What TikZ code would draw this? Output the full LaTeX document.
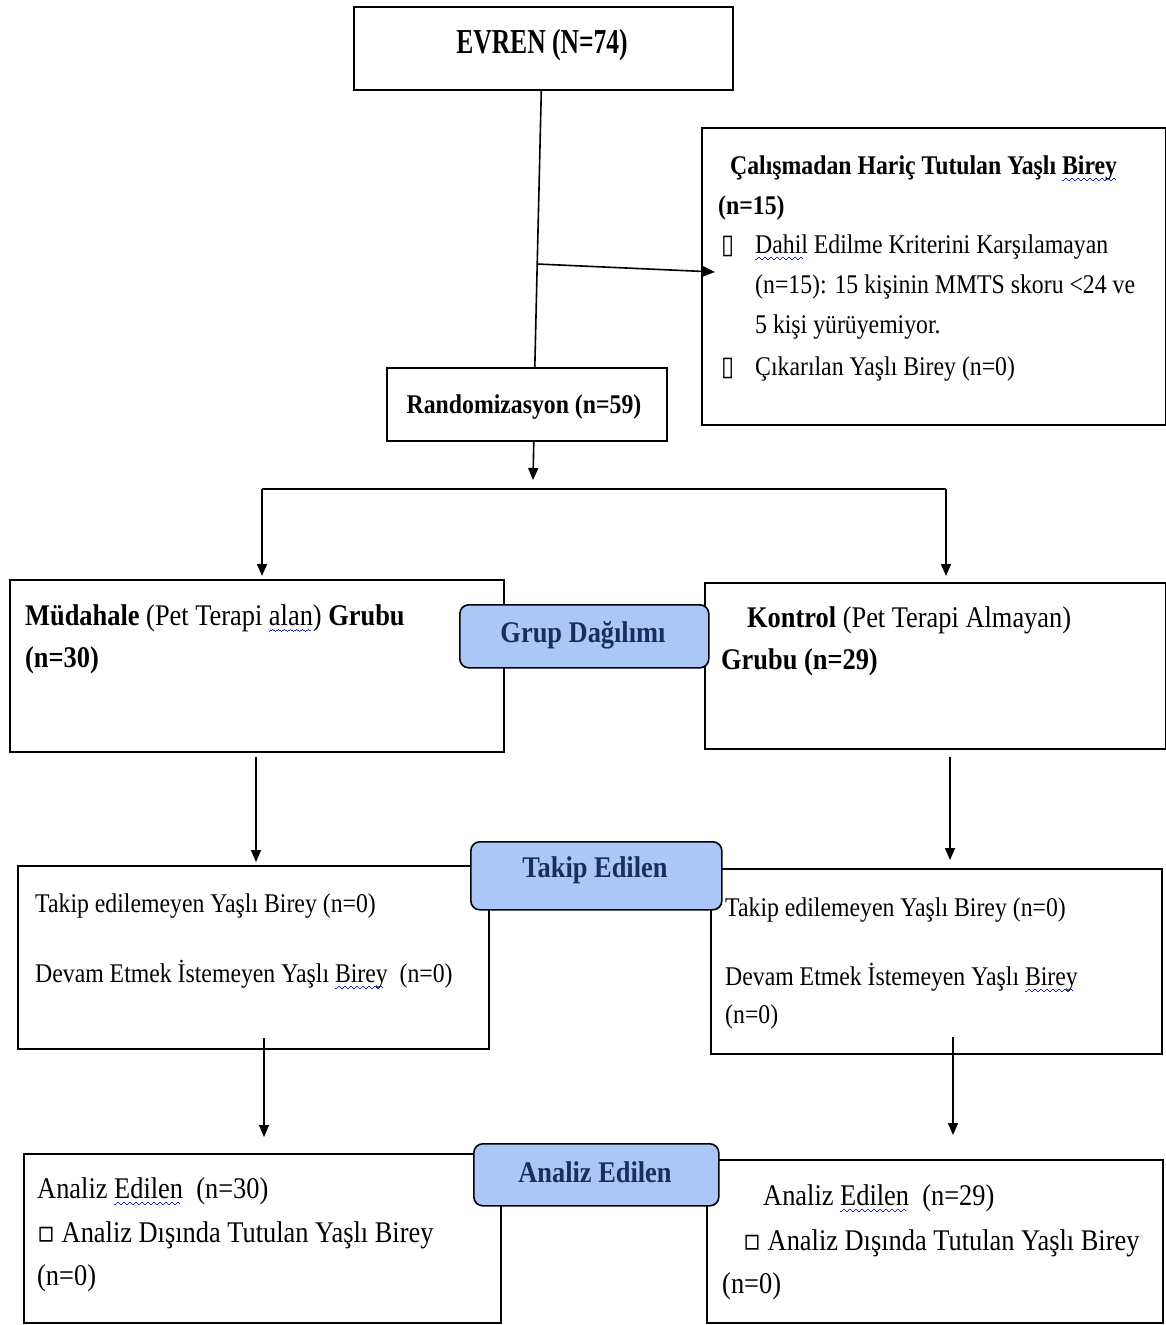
\documentclass[tikz,border=0pt]{standalone}
\usepackage{fontspec}
\usepackage{graphicx}
\setmainfont{Liberation Serif}[FakeStretch=0.88]
\newfontfamily\dv{DejaVu Sans}[FakeStretch=0.88]
\usetikzlibrary{arrows.meta}
\definecolor{lblfill}{RGB}{170,199,248}
\definecolor{lbltext}{RGB}{25,45,95}
\definecolor{wavecol}{RGB}{20,40,235}
\newcommand\wavepiece{\hbox{\rule[-7pt]{1.5pt}{1.4pt}\rule[-6pt]{1.5pt}{1.4pt}\rule[-5pt]{1.5pt}{1.4pt}\rule[-6pt]{1.5pt}{1.4pt}}}
\newcommand\sqw[1]{\setbox0\hbox{#1}\rlap{\raisebox{0pt}[0pt][0pt]{\hbox to \wd0{\color{wavecol}\leaders\wavepiece\hfill}}}\box0\relax}
\newcommand\fA{\fontsize{27}{41}\selectfont}
\newcommand\fB{\fontsize{30}{44}\selectfont}
\tikzset{
  box/.style={draw, line width=1.6pt, anchor=north west, inner sep=0pt},
  lbl/.style={draw, line width=1.6pt, fill=lblfill, rounded corners=9pt, anchor=north west, inner sep=0pt},
  tx/.style={anchor=base west, inner sep=0pt, font=\fA},
  txb/.style={anchor=base west, inner sep=0pt, font=\fB},
  lbltx/.style={anchor=base, inner sep=0pt, font=\fB\bfseries, text=lbltext},
  arr/.style={line width=1.6pt, -{Triangle[length=12pt,width=10pt]}},
  ln/.style={line width=1.6pt}
}
\begin{document}
\begin{tikzpicture}[x=1pt,y=-1pt]
\useasboundingbox (0,0) rectangle (1166,1325);
% boxes
\node[box, minimum width=379pt, minimum height=83pt] (evren) at (353,6) {};
\node[box, minimum width=464pt, minimum height=297pt] (excl) at (701,127) {};
\node[box, minimum width=280pt, minimum height=73pt] (rand) at (386,367) {};
\node[box, minimum width=494pt, minimum height=172pt] (grpL) at (9,579) {};
\node[box, minimum width=461pt, minimum height=166pt] (grpR) at (704,582) {};
\node[box, minimum width=471pt, minimum height=183pt] (folL) at (17,865) {};
\node[box, minimum width=451pt, minimum height=185pt] (folR) at (710,868) {};
\node[box, minimum width=477pt, minimum height=169pt] (anaL) at (23,1153) {};
\node[box, minimum width=456pt, minimum height=163pt] (anaR) at (706,1159) {};
% label boxes
\node[lbl, minimum width=249pt, minimum height=63pt] (grpLbl) at (459,604) {};
\node[lbl, minimum width=251pt, minimum height=68pt] (folLbl) at (470,841) {};
\node[lbl, minimum width=245pt, minimum height=62pt] (anaLbl) at (473,1143) {};
% texts
\node[anchor=base, inner sep=0pt, font=\fontsize{35}{40}\selectfont\bfseries] (tEvren) at (542,53) {\scalebox{0.83}[1]{EVREN (N=74)}};
\node[tx, anchor=base] (tRand) at (524,413) {\bfseries Randomizasyon (n=59)};
\node[tx] (tEx1) at (730,174) {\bfseries Çalışmadan Hariç Tutulan Yaşlı \sqw{Birey}};
\node[tx] (tEx2) at (718,214) {\bfseries (n=15)};
\node[tx] (bEx1) at (721,253) {\dv ▯};
\node[tx] (tEx3) at (755,253) {\sqw{Dahil} Edilme Kriterini Karşılamayan};
\node[tx] (tEx4) at (755,293) {(n=15): 15 kişinin MMTS skoru <24 ve};
\node[tx] (tEx5) at (755,333) {5 kişi yürüyemiyor.};
\node[tx] (bEx2) at (721,375) {\dv ▯};
\node[tx] (tEx6) at (755,375) {Çıkarılan Yaşlı Birey (n=0)};
\node[txb] (tGL1) at (25,625) {\textbf{Müdahale} (Pet Terapi \sqw{alan}) \textbf{Grubu}};
\node[txb] (tGL2) at (25,667) {\bfseries (n=30)};
\node[txb] (tGR1) at (747,627) {\textbf{Kontrol} (Pet Terapi Almayan)};
\node[txb] (tGR2) at (721,669) {\bfseries Grubu (n=29)};
\node[lbltx] (lGrp) at (583,642) {Grup Dağılımı};
\node[lbltx] (lFol) at (595,877) {Takip Edilen};
\node[lbltx] (lAna) at (595,1182) {Analiz Edilen};
\node[tx] (tFL1) at (35,912) {Takip edilemeyen Yaşlı Birey (n=0)};
\node[tx] (tFL2) at (35,982) {Devam Etmek İstemeyen Yaşlı \sqw{Birey}\ \ (n=0)};
\node[tx] (tFR1) at (725,916) {Takip edilemeyen Yaşlı Birey (n=0)};
\node[tx] (tFR2) at (725,985) {Devam Etmek İstemeyen Yaşlı \sqw{Birey}};
\node[tx] (tFR3) at (725,1023) {(n=0)};
\node[txb] (tAL1) at (37,1198) {Analiz \sqw{Edilen}\ \ (n=30)};
\node[txb] (tAL2) at (37,1242) {{\dv ▫} Analiz Dışında Tutulan Yaşlı Birey};
\node[txb] (tAL3) at (37,1285) {(n=0)};
\node[txb] (tAR1) at (763,1205) {Analiz \sqw{Edilen}\ \ (n=29)};
\node[txb] (tAR2) at (743,1250) {{\dv ▫} Analiz Dışında Tutulan Yaşlı Birey};
\node[txb] (tAR3) at (722,1293) {(n=0)};
% connectors
\coordinate (j1) at (537,264);
\coordinate (exTip) at (715,272);
\coordinate (s0) at (533,480);
\coordinate (sL) at (262,489);
\coordinate (sR) at (946,489);
\coordinate (a1) at (256,757);
\coordinate (a2) at (950,757);
\coordinate (b1) at (264,1038);
\coordinate (b2) at (953,1037);
\draw[ln] ([xshift=-2pt]evren.south) -- ([xshift=8pt]rand.north);
\draw[arr] (j1) -- (exTip);
\draw[arr] ([xshift=7pt]rand.south) -- (s0);
\draw[ln] (sL) -- (sR);
\draw[arr] (sL) -- ([yshift=3pt]sL |- grpL.north);
\draw[arr] (sR) -- ([yshift=6pt]sR |- grpR.north);
\draw[arr] (a1) -- ([yshift=3pt]a1 |- folL.north);
\draw[arr] (a2) -- ([yshift=8pt]a2 |- folR.north);
\draw[arr] (b1) -- ([yshift=16pt]b1 |- anaL.north);
\draw[arr] (b2) -- ([yshift=24pt]b2 |- anaR.north);
\end{tikzpicture}
\end{document}
